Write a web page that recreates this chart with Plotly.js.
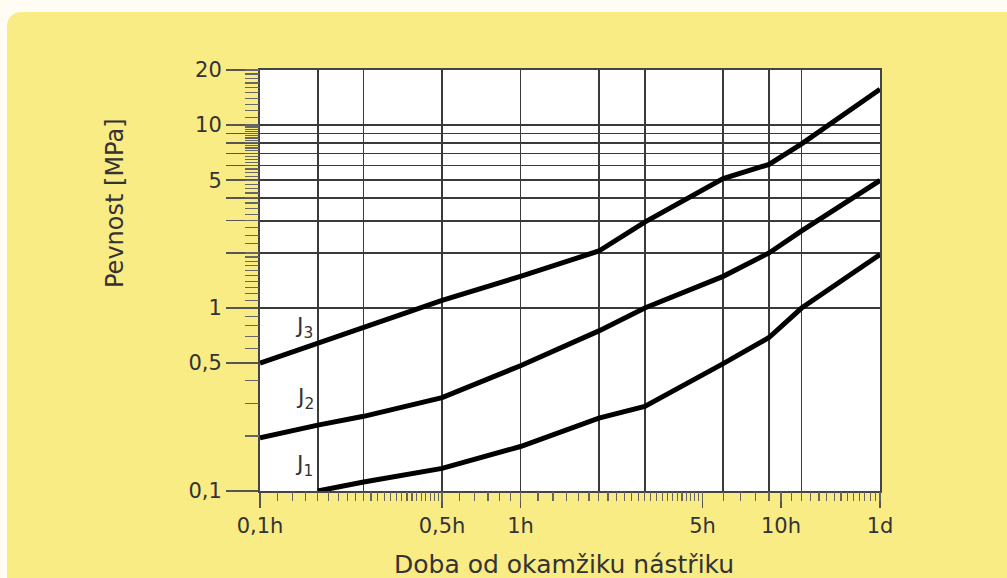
<!DOCTYPE html>
<html><head><meta charset="utf-8">
<script src="https://cdn.plot.ly/plotly-3.0.1.min.js"></script>
<style>
html,body{margin:0;padding:0;background:#fffdf3;width:1007px;height:578px;overflow:hidden;}
#bg{position:absolute;left:7px;top:12px;right:0;bottom:0;background:#f9ec85;border-top-left-radius:14px;}
#chart{position:absolute;left:0;top:0;width:1007px;height:578px;}
</style></head><body>
<div id="bg"></div><div id="chart"></div>
<script>
// Time after spraying, in hours
const hours   = [0.1, 1/6, 0.25, 0.5, 1, 2, 3, 6, 9, 12, 24];
const hoursJ1 = [1/6, 0.25, 0.5, 1, 2, 3, 6, 9, 12, 24];
// Strength [MPa]
const J3 = [0.5, 0.64, 0.79, 1.1, 1.49, 2.05, 2.95, 5.1, 6.1, 7.9, 15.7];
const J2 = [0.195, 0.229, 0.256, 0.324, 0.484, 0.75, 1.0, 1.49, 2.0, 2.64, 4.98];
const J1 = [0.1, 0.112, 0.133, 0.175, 0.25, 0.29, 0.497, 0.69, 1.0, 1.96];

// Axis labels
const xTickVals = [0.1, 0.5, 1, 5, 10, 24];
const xTickText = ['0,1h', '0,5h', '1h', '5h', '10h', '1d'];
const xGridVals = [1/6, 0.25, 0.5, 1, 2, 3, 6, 9, 12];
const yTickVals = [0.1, 0.5, 1, 5, 10, 20];
const yTickText = ['0,1', '0,5', '1', '5', '10', '20'];
const yGridVals = [1, 2, 3, 4, 5, 6, 7, 8, 9, 10];

// fine ruler ticks
const xSmall = [];
for (let m = 7; m <= 30; m++) xSmall.push(m / 60);
for (let m = 35; m <= 60; m += 5) xSmall.push(m / 60);
for (let m = 70; m <= 300; m += 10) xSmall.push(m / 60);
for (let h = 6; h <= 24; h++) xSmall.push(h);
const ySmall = [0.2, 0.3, 0.4, 0.6, 0.7, 0.8, 0.9];
for (let v = 11; v <= 20; v++) ySmall.push(v / 10);
for (let v = 2.25; v <= 10; v += 0.25) ySmall.push(v);
for (let v = 11; v <= 20; v++) ySmall.push(v);

const FONT = 'DejaVu Sans, Verdana, sans-serif';
const line = {color: '#000', width: 5};

const traces = [
  {x: hours, y: J3, mode: 'lines', line: line, name: 'J3'},
  {x: hours, y: J2, mode: 'lines', line: line, name: 'J2'},
  {x: hoursJ1, y: J1, mode: 'lines', line: line, name: 'J1'},
  {x: [], y: [], xaxis: 'x2', yaxis: 'y2', mode: 'lines', showlegend: false, hoverinfo: 'skip'}
];

const xr = [Math.log10(0.1), Math.log10(24)];
const yr = [Math.log10(0.1), Math.log10(20)];

const jFont = {family: FONT, size: 22, color: '#333'};

const layout = {
  width: 1007, height: 578,
  margin: {l: 260, r: 127, t: 70, b: 87},
  paper_bgcolor: 'rgba(0,0,0,0)',
  plot_bgcolor: '#ffffff',
  showlegend: false,
  font: {family: FONT, color: '#333', size: 22},
  xaxis: {
    type: 'log', range: xr, autorange: false,
    tickmode: 'array', tickvals: xTickVals, ticktext: xTickText,
    ticks: 'outside', ticklen: 15, tickwidth: 1.5, tickcolor: '#555',
    tickfont: {family: FONT, size: 21, color: '#333'},
    showgrid: false, zeroline: false,
    showline: true, mirror: true, linecolor: '#444', linewidth: 2,
    minor: {tickmode: 'array', tickvals: xGridVals, ticks: '', showgrid: true, gridcolor: '#3a3a3a', gridwidth: 1.6}
  },
  yaxis: {
    type: 'log', range: yr, autorange: false,
    tickmode: 'array', tickvals: yTickVals, ticktext: yTickText,
    ticks: 'outside', ticklen: 32, tickwidth: 1.5, tickcolor: '#555',
    tickfont: {family: FONT, size: 21, color: '#333'},
    showgrid: false, zeroline: false,
    showline: true, mirror: true, linecolor: '#444', linewidth: 2,
    minor: {tickmode: 'array', tickvals: yGridVals, ticks: 'outside', ticklen: 32, tickwidth: 1.5, tickcolor: '#555',
            showgrid: true, gridcolor: '#3a3a3a', gridwidth: 1.6}
  },
  xaxis2: {
    type: 'log', range: xr, autorange: false, overlaying: 'x', anchor: 'y', side: 'bottom',
    tickmode: 'array', tickvals: xSmall, ticks: 'outside', ticklen: 9, tickwidth: 1.2, tickcolor: '#666',
    showticklabels: false, showgrid: false, zeroline: false, showline: false
  },
  yaxis2: {
    type: 'log', range: yr, autorange: false, overlaying: 'y', anchor: 'x', side: 'left',
    tickmode: 'array', tickvals: ySmall, ticks: 'outside', ticklen: 14, tickwidth: 1.2, tickcolor: '#666',
    showticklabels: false, showgrid: false, zeroline: false, showline: false
  },
  annotations: [
    {xref: 'paper', yref: 'paper', x: (304 - 260) / 620, y: (491 - 327) / 421, xanchor: 'center', yanchor: 'middle',
     text: 'J<sub>3</sub>', showarrow: false, font: jFont},
    {xref: 'paper', yref: 'paper', x: (305 - 260) / 620, y: (491 - 398) / 421, xanchor: 'center', yanchor: 'middle',
     text: 'J<sub>2</sub>', showarrow: false, font: jFont},
    {xref: 'paper', yref: 'paper', x: (304 - 260) / 620, y: (491 - 465) / 421, xanchor: 'center', yanchor: 'middle',
     text: 'J<sub>1</sub>', showarrow: false, font: jFont},
    {xref: 'paper', yref: 'paper', x: (564 - 260) / 620, y: (491 - 564) / 421, xanchor: 'center', yanchor: 'middle',
     text: 'Doba od okamžiku nástřiku', showarrow: false, font: {family: FONT, size: 25, color: '#333'}},
    {xref: 'paper', yref: 'paper', x: (115 - 260) / 620, y: (491 - 203) / 421, xanchor: 'center', yanchor: 'middle',
     text: 'Pevnost [MPa]', textangle: -90, showarrow: false, font: {family: FONT, size: 24, color: '#333'}}
  ]
};

Plotly.newPlot('chart', traces, layout, {displayModeBar: false, staticPlot: true});
</script>
</body></html>
